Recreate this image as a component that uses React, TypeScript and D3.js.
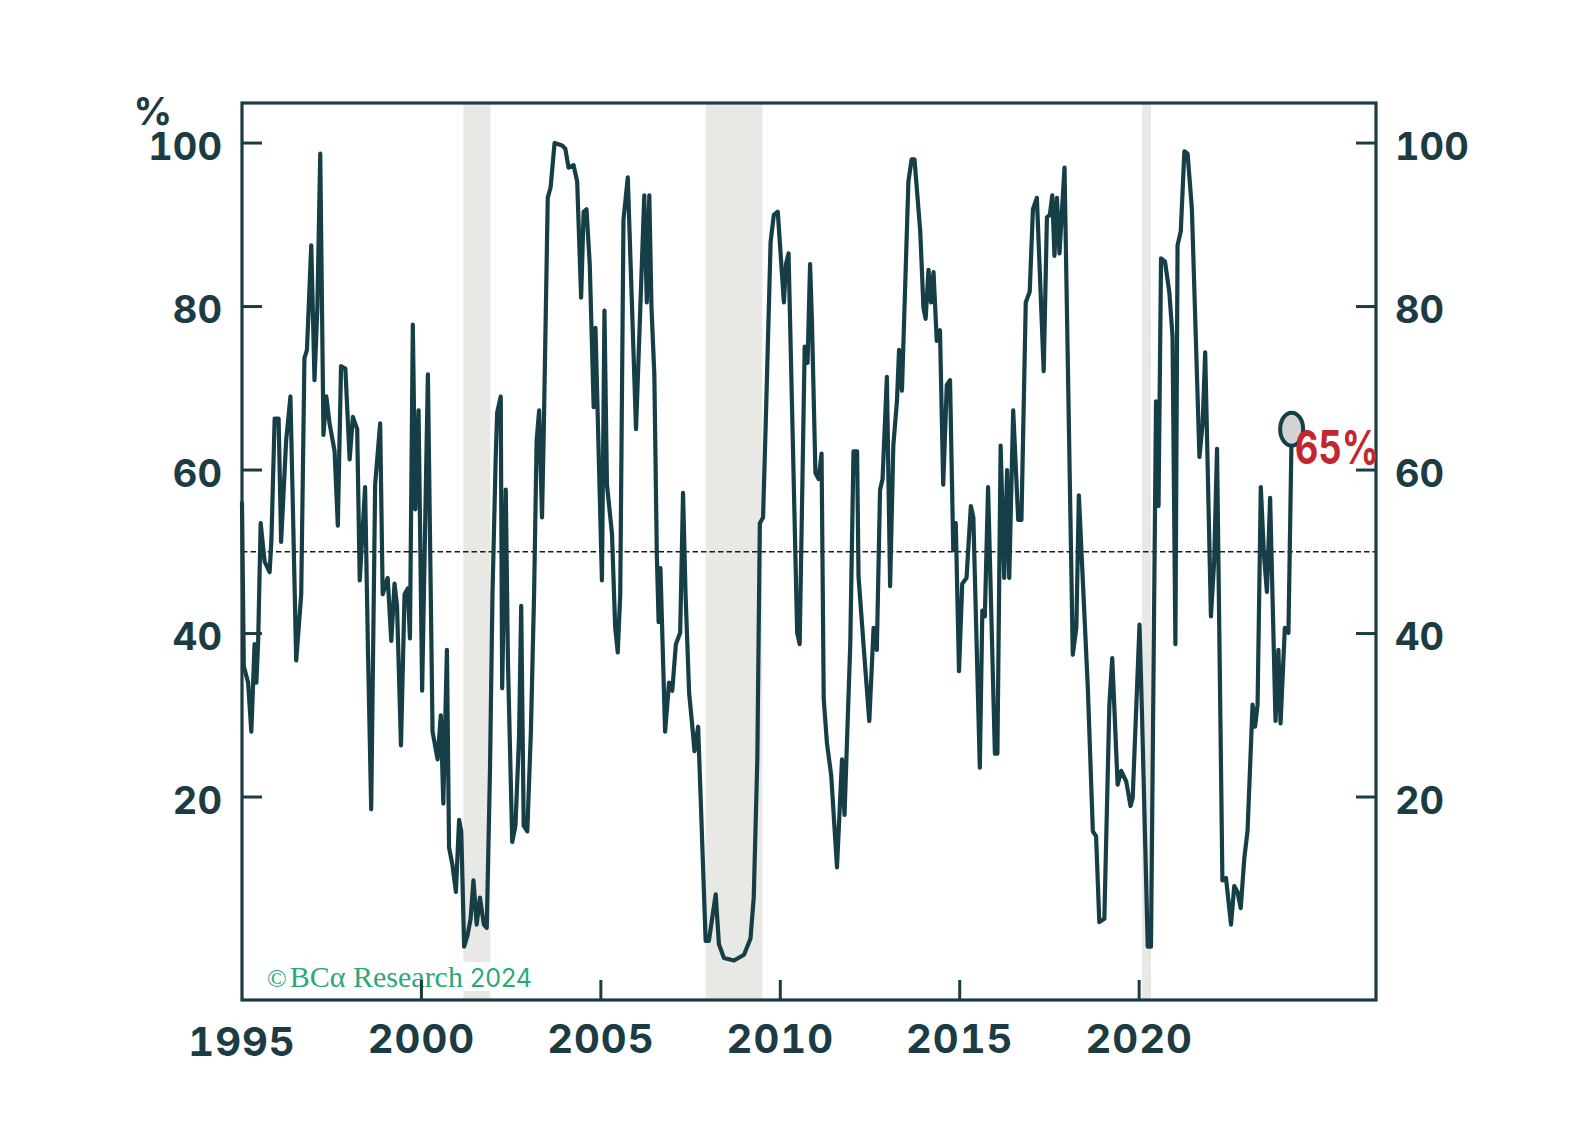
import React from 'react';
import * as d3 from 'd3';

// (decimal years / percent)
const lineYears = [
    1995.00, 1995.05, 1995.17, 1995.26, 1995.35, 1995.40, 1995.45, 1995.52, 1995.63, 1995.77, 1995.82, 1995.91,
    1996.02, 1996.09, 1996.23, 1996.35, 1996.42, 1996.51, 1996.65, 1996.74, 1996.81, 1996.93,
    1997.02, 1997.10, 1997.18, 1997.27, 1997.35, 1997.44, 1997.58, 1997.67, 1997.76, 1997.88,
    1998.00, 1998.09, 1998.21, 1998.28, 1998.43, 1998.51, 1998.60, 1998.71, 1998.85, 1998.92,
    1999.06, 1999.16, 1999.25, 1999.32, 1999.43, 1999.53, 1999.62, 1999.68, 1999.76, 1999.83, 1999.92,
    2000.02, 2000.18, 2000.31, 2000.45, 2000.54, 2000.61, 2000.71, 2000.77, 2000.86, 2000.96,
    2001.05, 2001.11, 2001.19, 2001.28, 2001.37, 2001.45, 2001.54, 2001.63, 2001.74, 2001.82, 2001.91, 2001.98,
    2002.07, 2002.11, 2002.21, 2002.25, 2002.35, 2002.41, 2002.53, 2002.62, 2002.72, 2002.78, 2002.85, 2002.95,
    2003.05, 2003.14, 2003.21, 2003.28, 2003.36, 2003.41, 2003.52, 2003.60, 2003.71, 2003.92,
    2004.01, 2004.10, 2004.24, 2004.34, 2004.45, 2004.52, 2004.60, 2004.69, 2004.80, 2004.85,
    2005.03, 2005.10, 2005.17, 2005.31, 2005.40, 2005.47, 2005.54, 2005.63, 2005.75, 2005.98,
    2006.21, 2006.28, 2006.35, 2006.41, 2006.49, 2006.56, 2006.61, 2006.66, 2006.79, 2006.90, 2006.99,
    2007.09, 2007.21, 2007.29, 2007.36, 2007.46, 2007.55, 2007.61, 2007.71, 2007.78, 2007.92,
    2008.01, 2008.20, 2008.29, 2008.43, 2008.71, 2008.99,
    2009.17, 2009.26, 2009.36, 2009.43, 2009.52, 2009.59, 2009.73, 2009.82, 2009.93,
    2010.10, 2010.16, 2010.23, 2010.47, 2010.54, 2010.68, 2010.76, 2010.83, 2010.88, 2010.98,
    2011.07, 2011.15, 2011.21, 2011.30, 2011.42, 2011.58, 2011.72, 2011.79, 2011.95,
    2012.04, 2012.14, 2012.18, 2012.33, 2012.48, 2012.60, 2012.69, 2012.78, 2012.85, 2012.97,
    2013.06, 2013.15, 2013.25, 2013.31, 2013.39, 2013.57, 2013.66, 2013.74, 2013.90, 2013.99,
    2014.05, 2014.13, 2014.20, 2014.27, 2014.36, 2014.45, 2014.54, 2014.64, 2014.73, 2014.82, 2014.89, 2014.98,
    2015.07, 2015.19, 2015.31, 2015.38, 2015.56, 2015.63, 2015.70, 2015.79, 2015.98,
    2016.05, 2016.14, 2016.24, 2016.32, 2016.38, 2016.49, 2016.63, 2016.72, 2016.84, 2016.95,
    2017.04, 2017.15, 2017.34, 2017.43, 2017.51, 2017.58, 2017.64, 2017.71, 2017.78, 2017.92,
    2018.15, 2018.25, 2018.32, 2018.57, 2018.71, 2018.80, 2018.89,
    2019.03, 2019.17, 2019.25, 2019.40, 2019.50, 2019.64, 2019.76, 2019.82,
    2020.01, 2020.08, 2020.24, 2020.33, 2020.47, 2020.54, 2020.61, 2020.72, 2020.84, 2020.93,
    2021.01, 2021.07, 2021.16, 2021.26, 2021.35, 2021.47, 2021.68, 2021.77, 2021.84,
    2022.00, 2022.09, 2022.17, 2022.32, 2022.42, 2022.56, 2022.65, 2022.74, 2022.83, 2022.93,
    2023.02, 2023.16, 2023.23, 2023.30, 2023.39, 2023.48, 2023.56, 2023.65, 2023.80, 2023.88, 2023.94,
    2024.06, 2024.16, 2024.25,
];

const lineValues = [
    56, 36, 34, 28, 38.7, 34, 39, 53.5, 48.8, 47.5, 51.5, 66.3,
    66.3, 51.2, 63.6, 69, 55, 36.7, 44.8, 73.7, 74.7, 87.5,
    71, 79.8, 98.7, 64.3, 69, 65.7, 62.3, 53.2, 72.7, 72.4,
    61.3, 66.5, 65, 46.5, 57.9, 38, 18.5, 58.2, 65.7, 44.8,
    46.8, 39.1, 46.1, 43.4, 26.3, 44.8, 45.5, 39.4, 77.8, 55.2, 67.3,
    33, 71.7, 28, 24.6, 30, 19.2, 38, 13.8, 11.8, 8.4,
    17.2, 15.8, 1.7, 3, 5.1, 9.8, 4.4, 7.7, 4.4, 4, 23.2, 44.8,
    61.6, 67, 69, 33.3, 57.6, 36.7, 14.5, 16.5, 27.3, 43.4, 16.5, 15.8,
    28, 45, 63.6, 67.3, 54.2, 65, 93.3, 94.6, 100, 99.7,
    99.3, 97, 97.3, 95.3, 81.1, 91.6, 91.9, 85.2, 67.7, 77.4,
    46.5, 79.5, 58.2, 52.2, 40.7, 37.7, 44.8, 90.6, 95.8, 65,
    93.6, 80.5, 93.6, 80, 71.7, 49.5, 41.4, 48, 28, 34, 33,
    38.7, 40.1, 57.2, 44.8, 32.7, 28.6, 25.6, 28.6, 20, 2.4,
    2.4, 8.1, 2.0, 0.3, 0, 0.7,
    2.7, 7.7, 24.6, 53.5, 54.2, 65, 87.9, 91.2, 91.6,
    80.5, 85.2, 86.5, 40.1, 38.7, 75.1, 73.1, 85.2, 78.5, 59.6,
    58.9, 62, 32, 26.6, 22.6, 11.4, 24.6, 17.8, 38.7,
    62.3, 62.3, 47, 38, 29.3, 40.7, 38, 57.6, 58.9, 71.4,
    45.8, 63, 68.4, 74.7, 69.7, 95.3, 98, 98, 89.2, 79.8,
    78.5, 84.5, 80.5, 84.2, 75.8, 77.1, 58.2, 70.4, 71, 50.2, 53.5, 35.4,
    46.1, 46.8, 55.6, 54.2, 23.6, 42.8, 42.1, 57.9, 25.3,
    25.3, 63, 46.8, 60, 46.8, 67.3, 53.9, 53.9, 80.5, 81.8,
    91.9, 93.3, 72.1, 90.9, 91.2, 93.6, 86.2, 93.3, 86.5, 97,
    37.4, 40.7, 56.9, 33.3, 15.8, 15.2, 4.7,
    5.1, 31.3, 37, 21.5, 23.2, 21.9, 18.9, 19.9,
    41.1, 30, 1.7, 1.7, 68.4, 55.6, 85.9, 85.5, 81.8, 76.4,
    38.7, 87.5, 89.2, 99, 98.7, 91.9, 61.6, 65.7, 74.4,
    42.1, 48.8, 62.6, 9.8, 10.1, 4.4, 9.1, 8.4, 6.4, 12.5,
    15.8, 31.3, 28.6, 31.3, 57.9, 49.5, 45.1, 56.6, 29.3, 38, 29,
    40.7, 40.1, 65,
];

// US recessions (shaded)
const recessionStarts = [2001.17, 2007.92, 2020.08];
const recessionEnds = [2001.92, 2009.50, 2020.33];

const yTickValues = [20, 40, 60, 80, 100];
const xTickYears = [1995, 2000, 2005, 2010, 2015, 2020];
const xTickLabels = ['1995', '2000', '2005', '2010', '2015', '2020'];
const referenceLevel = 50;
const latestLabel = '65%';

const W = 1595;
const H = 1144;
const plot = { left: 242, right: 1376, top: 103, bottom: 1000 };

const ink = '#1b3c43';
const lineColor = '#163e46';
const numFont = 'Inter, "Noto Sans", sans-serif';
const numStyle = { fontVariantNumeric: 'tabular-nums' } as React.CSSProperties;

export default function App() {
    const x = d3.scaleLinear().domain([1995, 2026.6]).range([plot.left, plot.right]);
    const y = d3.scaleLinear().domain([-4.83, 104.9]).range([plot.bottom, plot.top]);

    const points: [number, number][] = lineYears.map((yr, i) => [yr, lineValues[i]]);
    const line = d3.line<[number, number]>()
        .x(d => x(d[0]))
        .y(d => y(d[1]));

    const last = points[points.length - 1];
    const lx = x(last[0]);
    const ly = y(last[1]);

    return (
        <div style={{ position: 'fixed', left: 0, top: 0, width: W, height: H, background: '#fff' }}>
            <svg width={W} height={H} style={{ display: 'block' }}>
                <rect x={0} y={0} width={W} height={H} fill="#fff" />

                {/* recession shading */}
                {recessionStarts.map((s, i) => (
                    <rect key={i} x={x(s)} y={plot.top} width={x(recessionEnds[i]) - x(s)}
                        height={plot.bottom - plot.top} fill="#e8e8e4" />
                ))}

                {/* 50% reference */}
                <line x1={plot.left} x2={plot.right} y1={y(referenceLevel)} y2={y(referenceLevel)}
                    stroke="#1a1a1a" strokeWidth={1.5} strokeDasharray="5.5,3" />

                <path d={line(points) || ''} fill="none" stroke={lineColor} strokeWidth={4.2}
                    strokeLinejoin="round" strokeLinecap="round" />

                {/* copyright box */}
                <rect x={plot.left + 20} y={plot.bottom - 38} width={272} height={29} fill="#fff" />
                <text x={plot.left + 25} y={plot.bottom - 13} fill="#2aa878" fontSize={30}
                    fontFamily='"Liberation Serif", "DejaVu Serif", serif'>
                    <tspan fontSize={26}>©</tspan>
                    <tspan dx={3}>BCα Research</tspan>
                    <tspan dx={7} fontFamily={numFont} fontSize={25}>2024</tspan>
                </text>

                {/* frame */}
                <rect x={plot.left} y={plot.top} width={plot.right - plot.left} height={plot.bottom - plot.top}
                    fill="none" stroke={ink} strokeWidth={3.2} />

                {/* y ticks + labels */}
                {yTickValues.map(v => (
                    <g key={v}>
                        <line x1={plot.left} x2={plot.left + 20} y1={y(v)} y2={y(v)} stroke={ink} strokeWidth={3} />
                        <line x1={plot.right - 20} x2={plot.right} y1={y(v)} y2={y(v)} stroke={ink} strokeWidth={3} />
                        <text x={plot.left - 20} y={y(v) + 3} dy="0.36em" textAnchor="end" fill={ink} style={numStyle}
                            fontFamily={numFont} fontWeight={700} fontSize={38}>{v}</text>
                        <text x={plot.right + 19} y={y(v) + 3} dy="0.36em" textAnchor="start" fill={ink} style={numStyle}
                            fontFamily={numFont} fontWeight={700} fontSize={38}>{v}</text>
                    </g>
                ))}
                <text x={172} y={125} textAnchor="end" fill={ink} fontFamily={numFont} fontWeight={700}
                    fontSize={38}>%</text>

                {/* x ticks + labels */}
                {xTickYears.map((yr, i) => (
                    <g key={yr}>
                        {i > 0 && (
                            <line x1={x(yr)} x2={x(yr)} y1={plot.bottom} y2={plot.bottom - 20}
                                stroke={ink} strokeWidth={3} />
                        )}
                        <text x={x(yr)} y={plot.bottom + 39 + (i === 0 ? 3 : 0)} dy="0.36em" textAnchor="middle"
                            fill={ink} style={numStyle} fontFamily={numFont} fontWeight={700} fontSize={40}
                            letterSpacing={1}>{xTickLabels[i]}</text>
                    </g>
                ))}

                {/* latest reading */}
                <ellipse cx={lx} cy={ly} rx={11.5} ry={16.5} fill="#d2d3d3" stroke={lineColor} strokeWidth={4} />
                <text x={lx + 3} y={ly + 35} fill="#c4262e" fontFamily={numFont} fontWeight={700}
                    fontSize={46} textLength={84} lengthAdjust="spacingAndGlyphs">{latestLabel}</text>
            </svg>
        </div>
    );
}
